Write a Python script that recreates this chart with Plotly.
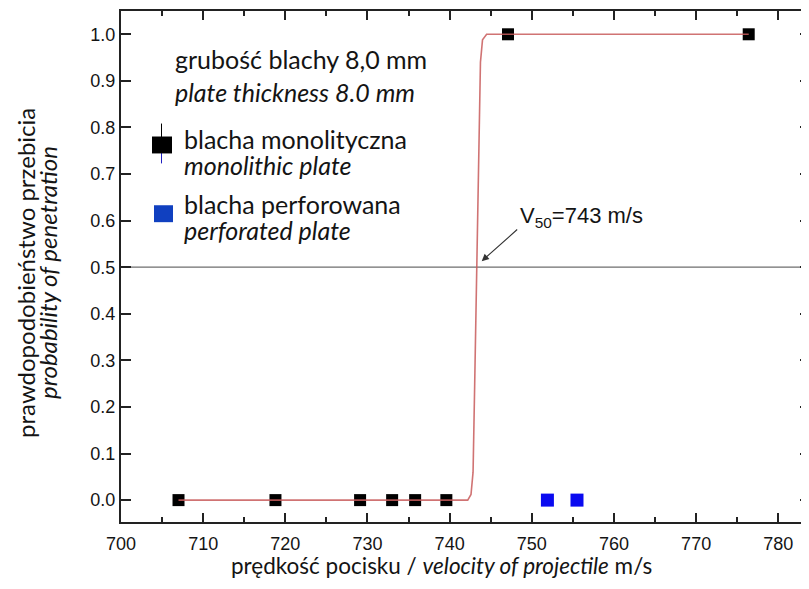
import plotly.graph_objects as go

# ---- data ----
mono_x = [707.0, 718.8, 729.1, 733.0, 735.8, 739.6, 747.1, 776.4]
mono_y = [0, 0, 0, 0, 0, 0, 1, 1]
perf_x = [751.9, 755.5]
perf_y = [0, 0]
# fitted probit/logistic curve
fit_x = [707.0, 742.2, 742.6, 742.85, 743.05, 743.3, 743.55, 743.75, 744.0, 744.5, 776.4]
fit_y = [0.0, 0.0, 0.012, 0.06, 0.25, 0.5, 0.75, 0.94, 0.988, 1.0, 1.0]
x_ticks = [700, 710, 720, 730, 740, 750, 760, 770, 780]
y_ticks = [0.0, 0.1, 0.2, 0.3, 0.4, 0.5, 0.6, 0.7, 0.8, 0.9, 1.0]

W, H = 809, 589
OFF = 8  # page body margin of the html page
L, R, T, B = 113, 7, 1, 75
XR = [700, 783.86]
YR = [-0.047, 1.050]

def px(xp):  # window pixel -> paper x
    return (xp - OFF - L) / (W - L - R)

def py(yp):  # window pixel -> paper y
    return (H - B - (yp - OFF)) / (H - T - B)

TXT = "Lato"
TICKF = "Liberation Sans"
INK = "#141414"

fig = go.Figure()

fig.add_trace(go.Scatter(x=mono_x, y=mono_y, mode="markers",
                         marker=dict(symbol="square", size=12, color="#000000",
                                     line=dict(width=0)),
                         showlegend=False))
fig.add_trace(go.Scatter(x=perf_x, y=perf_y, mode="markers",
                         marker=dict(symbol="square", size=13, color="#0a0af0",
                                     line=dict(width=0)),
                         showlegend=False))
fig.add_trace(go.Scatter(x=fit_x, y=fit_y, mode="lines",
                         line=dict(color="rgba(200,90,90,0.85)", width=1.6),
                         showlegend=False))

shapes = []
shapes.append(dict(type="line", xref="paper", yref="y", x0=0, x1=1, y0=0.5, y1=0.5,
                   line=dict(color="#6e6e6e", width=1.2), layer="below"))
# legend symbols
shapes.append(dict(type="line", xref="paper", yref="paper", x0=px(161.5), x1=px(161.5),
                   y0=py(122), y1=py(136), line=dict(color="#000", width=1)))
shapes.append(dict(type="line", xref="paper", yref="paper", x0=px(161.5), x1=px(161.5),
                   y0=py(151), y1=py(162), line=dict(color="#2020c0", width=1)))
shapes.append(dict(type="rect", xref="paper", yref="paper", x0=px(152), x1=px(172),
                   y0=py(152), y1=py(135), fillcolor="#000", line=dict(width=0)))
shapes.append(dict(type="rect", xref="paper", yref="paper", x0=px(154), x1=px(173),
                   y0=py(221), y1=py(204), fillcolor="#1040c0", line=dict(width=0)))

ann = []
def txt(text, xp, yp, size=25, xanchor="left", angle=0, font=TXT):
    ann.append(dict(text=text, xref="paper", yref="paper", x=px(xp), y=py(yp),
                    xanchor=xanchor, yanchor="middle", showarrow=False, textangle=angle,
                    font=dict(family=font, size=size, color=INK)))

txt("grubość blachy 8,0 mm", 173, 57)
txt("<i>plate thickness 8.0 mm</i>", 173, 90)
txt("blacha monolityczna", 182, 138)
txt("<i>monolithic plate</i>", 182, 164)
txt("blacha perforowana", 182, 203)
txt("<i>perforated plate</i>", 182, 229)
txt("prędkość pocisku / <i>velocity of projectile</i> m/s", 441, 566, size=22.5, xanchor="center")
txt("prawdopodobieństwo przebicia", 26, 272, size=24, xanchor="center", angle=-90)
txt("<i>probability of penetration</i>", 48, 272, size=24, xanchor="center", angle=-90)

# V50 annotation
ann.append(dict(text="V<sub>50</sub>=743 m/s", xref="paper", yref="paper",
                x=px(518), y=py(216), xanchor="left", yanchor="middle", showarrow=False,
                font=dict(family=TICKF, size=22, color=INK)))
ann.append(dict(text="", xref="x", yref="y", x=743.9, y=0.513, ax=37, ay=-33,
                showarrow=True, arrowhead=2, arrowsize=1.3, arrowwidth=1.1,
                arrowcolor="#333"))

fig.update_layout(
    width=W, height=H, margin=dict(l=L, r=R, t=T, b=B),
    paper_bgcolor="white", plot_bgcolor="white",
    shapes=shapes, annotations=ann,
    xaxis=dict(range=XR, tickvals=x_ticks, ticks="inside", ticklen=9, tickwidth=2,
               tickcolor="#222", showline=True, linecolor="#222", linewidth=2,
               mirror="ticks", showgrid=False, zeroline=False, ticklabelstandoff=4,
               minor=dict(ticks="inside", ticklen=5, tickwidth=2, tickcolor="#222", dtick=5,
                          tick0=705, showgrid=False),
               tickfont=dict(family=TICKF, size=18, color=INK)),
    yaxis=dict(range=YR, tickvals=y_ticks, ticktext=[f"{v:.1f}" for v in y_ticks],
               ticks="inside", ticklen=10, tickwidth=2, tickcolor="#222",
               showline=True, linecolor="#222", linewidth=2, mirror="ticks",
               showgrid=False, zeroline=False,
               tickfont=dict(family=TICKF, size=18, color=INK)),
)

fig.write_html("out.html")
